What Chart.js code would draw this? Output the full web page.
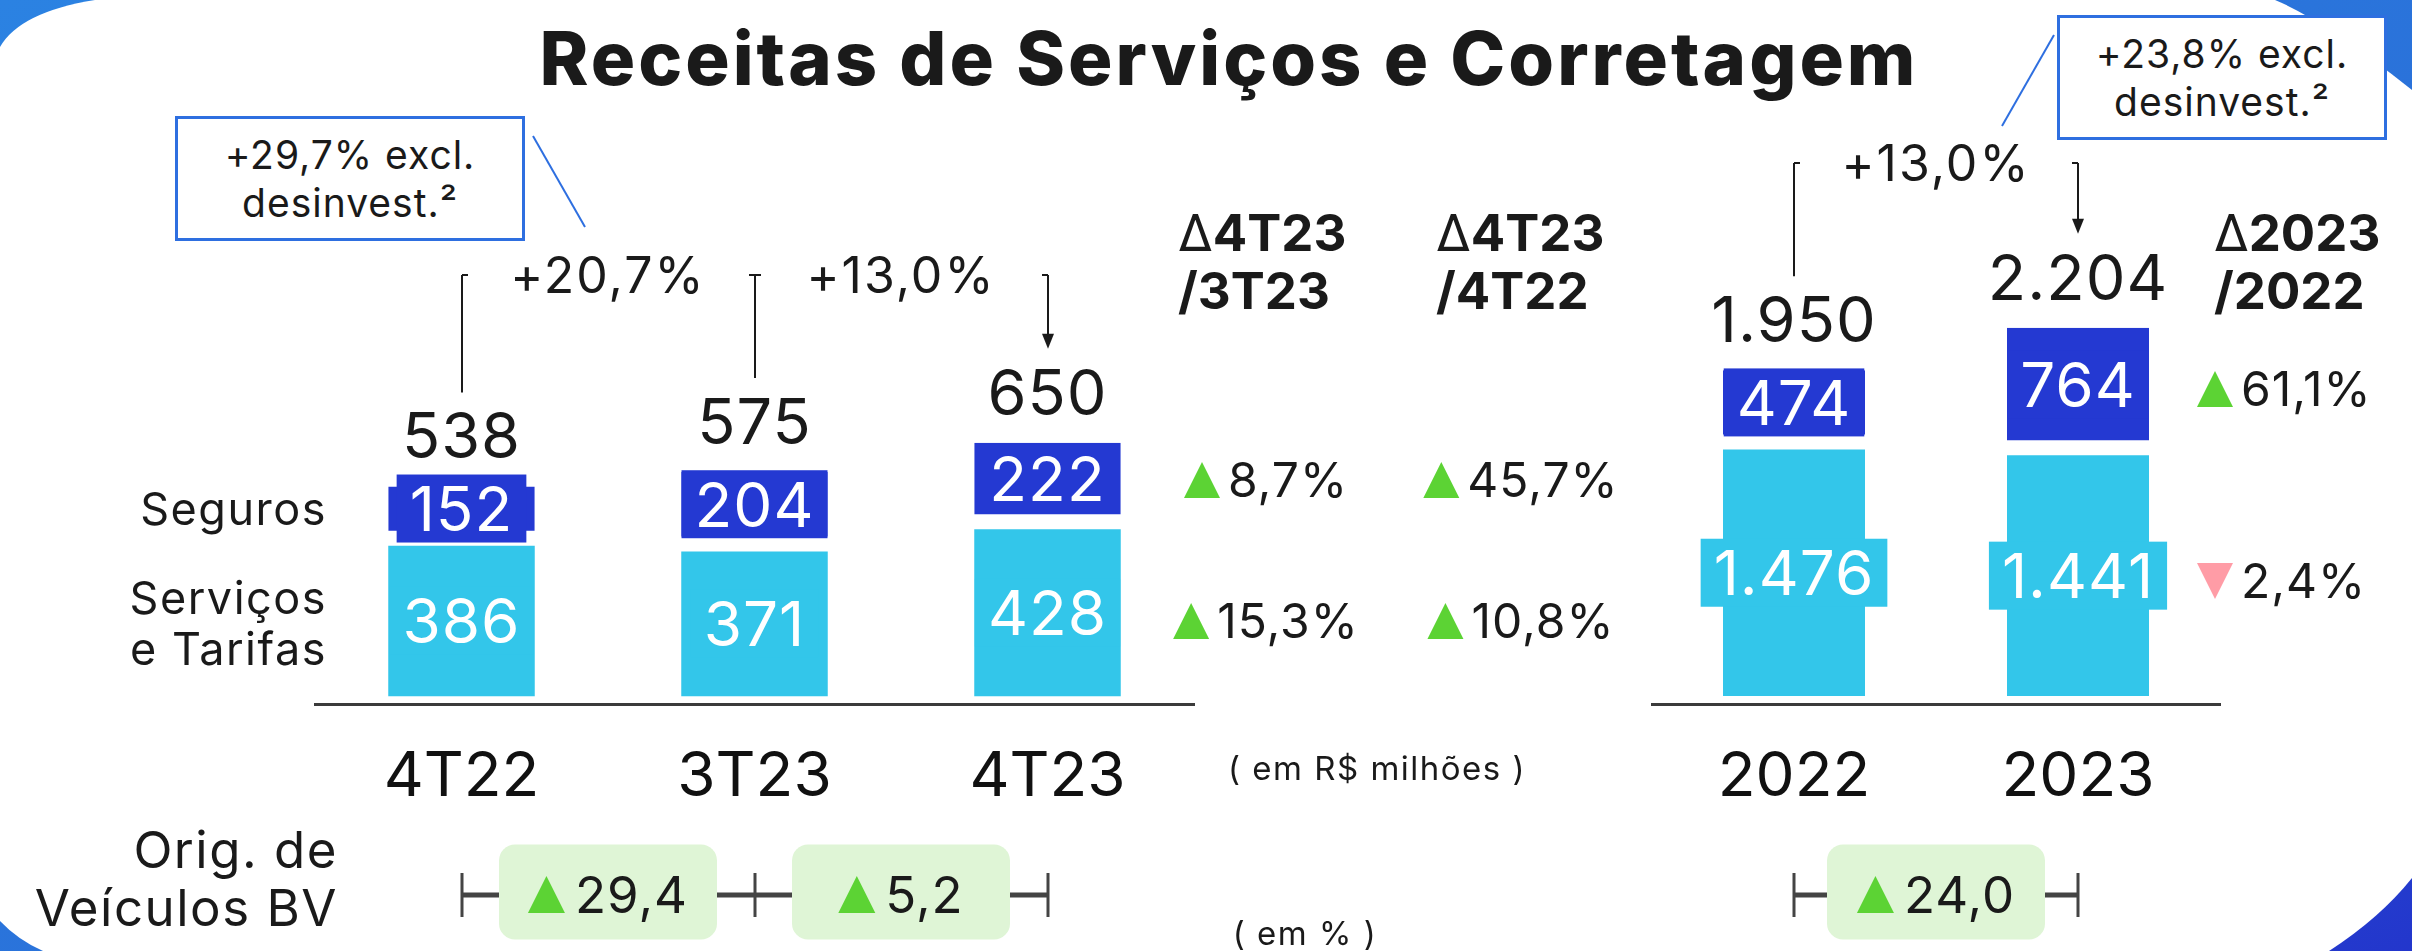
<!DOCTYPE html>
<html>
<head>
<meta charset="utf-8">
<script src="https://cdn.jsdelivr.net/npm/chart.js@4.4.1/dist/chart.umd.min.js"></script>
<style>
html, body { margin: 0; padding: 0; }
body {
  width: 2412px; height: 951px; overflow: hidden; position: relative;
  font-family: Inter, "Noto Sans", sans-serif; color: #1a1a1a;
  background: linear-gradient(to bottom right, #2b82e2 0%, #2a72da 55%, #2336cc 100%);
}
#bg, canvas { position: absolute; left: 0; top: 0; }
.t { position: absolute; white-space: nowrap; }
.c { transform: translate(-50%, -50%); }
.title { font-weight: 800; font-size: 74px; line-height: 80px; letter-spacing: 3px; }
.hdr { font-weight: 700; font-size: 51px; line-height: 58px; }
.hdr span { font-weight: 400; }
.row { font-size: 45px; line-height: 51px; text-align: right; letter-spacing: 1.5px; }
.orig { font-size: 51px; line-height: 58px; text-align: right; letter-spacing: 1.5px; }
.note { font-size: 33px; line-height: 40px; letter-spacing: 1.5px; }
.box { position: absolute; border: 3px solid #2e6fe0; box-sizing: border-box; background: #fff; letter-spacing: 1px;
       font-size: 39px; line-height: 48px; text-align: center; display: flex; align-items: center; justify-content: center; }
.delta { display: flex; align-items: center; gap: 8px; font-size: 48px; line-height: 48px; letter-spacing: 1px; }
.up { width: 0; height: 0; border-left: 18px solid transparent; border-right: 18px solid transparent; border-bottom: 36px solid #5cd334; }
.down { width: 0; height: 0; border-left: 18px solid transparent; border-right: 18px solid transparent; border-top: 36px solid #ff9ca6; }
</style>
</head>
<body>
<svg id="bg" width="2412" height="951"><path d="M95,0 L2275,0 Q2326,21 2412,90 L2412,878 Q2380,918 2329,951 L43,951 Q18,940 0,921 L0,47 Q20,12 95,0 Z" fill="#fff"/></svg>
<svg id="callouts" width="2412" height="951" style="position:absolute;left:0;top:0">
  <line x1="533" y1="136" x2="585" y2="227" stroke="#2e6fe0" stroke-width="2"/>
  <line x1="2054" y1="35" x2="2002" y2="126" stroke="#2e6fe0" stroke-width="2"/>
</svg>
<canvas id="left" width="2412" height="951"></canvas>
<canvas id="right" width="2412" height="951"></canvas>

<div class="t c title" style="left:1229px;top:58px">Receitas de Serviços e Corretagem</div>
<div class="box" style="left:175px;top:116px;width:350px;height:125px">+29,7% excl.<br>desinvest.²</div>
<div class="box" style="left:2057px;top:15px;width:330px;height:125px">+23,8% excl.<br>desinvest.²</div>

<div class="t hdr" style="left:1178px;top:204px"><span>Δ</span>4T23<br>/3T23</div>
<div class="t hdr" style="left:1436px;top:204px"><span>Δ</span>4T23<br>/4T22</div>
<div class="t hdr" style="left:2214px;top:204px"><span>Δ</span>2023<br>/2022</div>

<div class="t row" style="right:2085px;top:483px">Seguros</div>
<div class="t row" style="right:2085px;top:572px">Serviços<br>e Tarifas</div>
<div class="t orig" style="right:2074px;top:821px">Orig. de<br>Veículos BV</div>
<div class="t c note" style="left:1377px;top:768px">( em R$ milhões )</div>
<div class="t c note" style="left:1305px;top:933px">( em % )</div>
<div id="deltas"></div>

<script>
// valores (R$ milhões)
const quarters = ['4T22', '3T23', '4T23'];
const servicosQ = [386, 371, 428];
const segurosQ = [152, 204, 222];
const totalsQ = [538, 575, 650];
const growthQ = ['+20,7%', '+13,0%'];
const origQ = [29.4, 5.2];

const years = ['2022', '2023'];
const servicosY = [1476, 1441];
const segurosY = [474, 764];
const totalsY = [1950, 2204];
const growthY = ['+13,0%'];
const origY = [24.0];

// variações (%)
const deltaQoQ = [8.7, 15.3];
const deltaYoY = [45.7, 10.8];
const deltaAnual = [61.1, -2.4];

const CYAN = '#33c6ea';
const BLUE = '#2439d2';
const GREEN = '#5cd334';
const AXIS_Y = 704;
const GAP = 15;

function fmt(v, d = 0) {
  const [i, f] = Math.abs(v).toFixed(d).split('.');
  const s = i.replace(/\B(?=(\d{3})+(?!\d))/g, '.');
  return f ? s + ',' + f : s;
}

// delta columns
const deltas = document.getElementById('deltas');
function addDelta(v, x, y, centered) {
  const d = document.createElement('div');
  d.className = 't delta' + (centered ? ' c' : '');
  d.style.left = x + 'px';
  d.style.top = (centered ? y : y - 24) + 'px';
  d.innerHTML = `<div class="${v >= 0 ? 'up' : 'down'}"></div><div>${fmt(v, 1)}%</div>`;
  deltas.appendChild(d);
}
[480, 621].forEach((y, i) => {
  addDelta(deltaQoQ[i], 1266, y, true);
  addDelta(deltaYoY[i], 1521, y, true);
});
[389, 581].forEach((y, i) => addDelta(deltaAnual[i], 2197, y, false));

function makeDecor(c) {
  return {
    id: 'decor',
    afterDraw(chart) {
      const ctx = chart.ctx;
      const cyan = chart.getDatasetMeta(0).data;
      const blue = chart.getDatasetMeta(1).data;
      const n = blue.length;
      ctx.save();
      ctx.textAlign = 'center';
      ctx.textBaseline = 'alphabetic';
      ctx.letterSpacing = '1px';

      // labels inside bars
      const fs = 62;
      ctx.font = `400 ${fs}px Inter`;
      [[cyan, c.serv, CYAN, 0], [blue, c.seg, BLUE, GAP]].forEach(([bars, vals, col, g]) => {
        bars.forEach((b, i) => {
          const cy = (b.y + b.base - g) / 2;
          const t = fmt(vals[i]);
          const w = ctx.measureText(t).width + 26;
          ctx.fillStyle = col;
          ctx.fillRect(b.x - w / 2, cy - 34, w, 68);
          ctx.fillStyle = '#fff';
          ctx.fillText(t, b.x, cy + fs * 0.3635);
        });
      });

      // totals
      ctx.fillStyle = '#1a1a1a';
      ctx.font = '400 63px Inter';
      blue.forEach((b, i) => ctx.fillText(fmt(c.totals[i]), b.x, b.y - 28));

      // growth brackets
      ctx.strokeStyle = '#1a1a1a';
      ctx.lineWidth = 2;
      blue.forEach((b, i) => {
        const x = Math.round(b.x);
        const yb = b.y - 94;
        const last = i === n - 1;
        ctx.beginPath();
        ctx.moveTo(x, c.lineTop);
        ctx.lineTo(x, last ? yb - 13 : yb);
        if (i > 0) { ctx.moveTo(x - 6, c.lineTop); ctx.lineTo(x, c.lineTop); }
        if (!last) { ctx.moveTo(x, c.lineTop); ctx.lineTo(x + 6, c.lineTop); }
        ctx.stroke();
        if (last) {
          ctx.beginPath();
          ctx.moveTo(x - 6, yb - 15); ctx.lineTo(x + 6, yb - 15); ctx.lineTo(x, yb);
          ctx.closePath(); ctx.fill();
        }
      });
      ctx.font = '400 50px Inter';
      ctx.letterSpacing = '2px';
      c.growth.forEach((g, i) => {
        ctx.fillText(g, (blue[i].x + blue[i + 1].x) / 2, c.lineTop + 18);
      });
      ctx.letterSpacing = '1px';

      // vehicle origination row
      const yo = 895;
      ctx.fillStyle = '#444';
      blue.forEach(b => ctx.fillRect(Math.round(b.x) - 1.5, yo - 22, 3, 44));
      c.orig.forEach((v, i) => {
        const x0 = blue[i].x, x1 = blue[i + 1].x, xm = (x0 + x1) / 2;
        const bw = 218, bh = 95;
        ctx.fillStyle = '#444';
        ctx.fillRect(x0, yo - 2.5, xm - bw / 2 - x0, 5);
        ctx.fillRect(xm + bw / 2, yo - 2.5, x1 - xm - bw / 2, 5);
        ctx.fillStyle = '#dff5d6';
        ctx.beginPath();
        ctx.roundRect(xm - bw / 2, yo - bh / 2 - 3, bw, bh, 16);
        ctx.fill();
        ctx.font = '400 51px Inter';
        const t = fmt(v, 1);
        const tw = ctx.measureText(t).width;
        const gw = 37 + 10 + tw;
        const gx = xm - gw / 2;
        ctx.fillStyle = GREEN;
        ctx.beginPath();
        ctx.moveTo(gx, yo + 18); ctx.lineTo(gx + 37, yo + 18); ctx.lineTo(gx + 18.5, yo - 19);
        ctx.closePath(); ctx.fill();
        ctx.fillStyle = '#1a1a1a';
        ctx.textAlign = 'left';
        ctx.fillText(t, gx + 47, yo + 18);
        ctx.textAlign = 'center';
      });
      ctx.restore();
    }
  };
}

function build(id, labels, serv, seg, c) {
  new Chart(document.getElementById(id), {
    type: 'bar',
    data: {
      labels: labels,
      datasets: [
        { label: 'Serviços e Tarifas', data: serv, backgroundColor: CYAN, borderWidth: 0 },
        { label: 'Seguros', data: seg, backgroundColor: BLUE, borderColor: '#fff',
          borderWidth: { top: 0, left: 0, right: 0, bottom: GAP }, borderSkipped: false }
      ]
    },
    options: {
      responsive: false,
      animation: false,
      layout: { padding: { left: c.left, right: 2412 - c.right, top: AXIS_Y - (c.max - c.min) * c.k, bottom: 0 } },
      plugins: { legend: { display: false }, tooltip: { enabled: false } },
      datasets: { bar: { categoryPercentage: 1, barPercentage: 0.5 } },
      scales: {
        x: {
          stacked: true,
          grid: { display: false },
          border: { display: true, color: '#3b3b3b', width: 3 },
          ticks: { color: '#111', font: { family: 'Inter', size: 62 }, padding: 28 },
          afterFit(s) { s.height = 951 - AXIS_Y; }
        },
        y: { stacked: true, display: false, min: c.min, max: c.max }
      }
    },
    plugins: [makeDecor(Object.assign({ serv, seg }, c))]
  });
}

build('left', quarters, servicosQ, segurosQ,
  { left: 315, right: 1194, k: 0.39, min: -20, max: 1000, totals: totalsQ, growth: growthQ, orig: origQ, lineTop: 275 });
build('right', years, servicosY, segurosY,
  { left: 1652, right: 2220, k: 0.167, min: -48, max: 2500, totals: totalsY, growth: growthY, orig: origY, lineTop: 163 });
</script>
</body>
</html>
